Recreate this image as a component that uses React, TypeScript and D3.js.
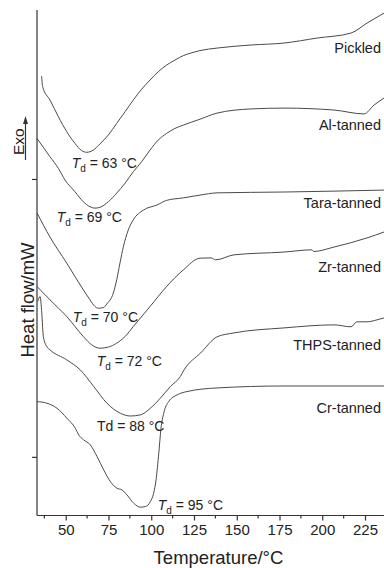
import { useEffect, useRef } from "react"
import * as d3 from "d3"

const W = 384, H = 568
const FONT = "'Liberation Sans', Arial, Helvetica, sans-serif"
const INK = "#222"

// DSC traces: temperature (°C) and heat flow (mW, curves offset vertically)
const pickledT = [35.9, 36.5, 40.8, 45.7, 50.6, 55.4, 59.3, 62.3, 66.1, 70.0, 74.9, 79.8, 84.7, 89.5, 94.4, 99.3, 104.1, 109.0, 113.9, 118.8, 123.7, 128.5, 138.5, 158.3, 177.6, 196.9, 216.8, 226.2, 236.1]
const pickledHF = [13.70, 13.32, 12.84, 12.24, 11.70, 11.28, 11.02, 10.96, 11.04, 11.26, 11.58, 12.00, 12.42, 12.84, 13.23, 13.56, 13.86, 14.10, 14.28, 14.44, 14.54, 14.62, 14.71, 14.82, 14.89, 15.07, 15.25, 15.61, 15.97]

const alT = [33.2, 40.8, 45.7, 49.6, 55.4, 60.3, 64.2, 67.1, 70.0, 74.9, 79.8, 84.7, 89.5, 94.4, 99.3, 104.1, 109.0, 113.9, 118.8, 128.5, 138.5, 158.3, 177.6, 206.9, 224.4, 230.3, 236.1]
const alHF = [11.46, 10.80, 10.38, 9.96, 9.54, 9.18, 9.00, 8.95, 8.98, 9.18, 9.49, 9.85, 10.26, 10.62, 11.04, 11.40, 11.64, 11.82, 11.94, 12.15, 12.37, 12.52, 12.55, 12.48, 12.34, 12.66, 12.91]

const taraT = [33.2, 40.8, 50.6, 60.3, 64.2, 67.1, 69.0, 72.0, 74.0, 77.8, 79.8, 81.7, 83.7, 86.6, 89.5, 95.4, 103.2, 109.0, 118.8, 128.5, 138.5, 177.6, 236.1]
const taraHF = [8.78, 7.91, 6.97, 6.01, 5.65, 5.41, 5.35, 5.37, 5.50, 5.89, 6.37, 6.97, 7.56, 8.17, 8.53, 8.88, 9.06, 9.23, 9.32, 9.42, 9.50, 9.53, 9.60]

const zrT = [33.2, 40.8, 50.6, 60.3, 65.2, 70.0, 74.9, 79.8, 84.7, 89.5, 99.3, 109.0, 118.8, 128.5, 135.0, 137.7, 148.4, 177.6, 194.0, 194.9, 206.9, 226.2, 236.1]
const zrHF = [6.13, 5.65, 5.05, 4.33, 4.03, 3.91, 3.95, 4.09, 4.33, 4.69, 5.41, 6.13, 6.73, 7.15, 7.16, 7.09, 7.27, 7.37, 7.45, 7.39, 7.55, 7.88, 8.09]

const thpsT = [33.6, 35.0, 36.0, 36.9, 38.9, 40.8, 50.6, 58.5, 66.4, 74.1, 81.9, 87.8, 93.6, 99.5, 105.3, 111.2, 117.0, 119.2, 128.9, 138.5, 148.4, 177.6, 206.9, 216.8, 220.3, 226.2, 232.0, 236.1]
const thpsHF = [5.59, 5.77, 5.17, 4.33, 3.97, 3.85, 3.49, 3.13, 2.53, 1.93, 1.57, 1.47, 1.51, 1.75, 2.11, 2.53, 2.89, 3.13, 3.74, 4.32, 4.46, 4.64, 4.75, 4.68, 4.86, 4.86, 4.93, 5.00]

const crT = [33.2, 39.0, 44.9, 50.7, 55.6, 57.6, 60.5, 64.4, 68.3, 72.2, 76.1, 80.0, 82.9, 85.8, 89.8, 93.6, 96.5, 99.5, 101.4, 102.8, 104.4, 105.7, 107.3, 110.2, 115.1, 120.9, 138.5, 177.6, 236.1]
const crHF = [1.99, 1.93, 1.75, 1.39, 1.03, 0.79, 0.61, 0.43, 0.01, -0.47, -0.89, -1.13, -1.19, -1.37, -1.67, -1.81, -1.79, -1.61, -1.31, -0.83, 0.13, 1.03, 1.57, 1.99, 2.23, 2.35, 2.48, 2.55, 2.55]

const seriesNames = ["Pickled", "Al-tanned", "Tara-tanned", "Zr-tanned", "THPS-tanned", "Cr-tanned"]
const seriesT = [pickledT, alT, taraT, zrT, thpsT, crT]
const seriesHF = [pickledHF, alHF, taraHF, zrHF, thpsHF, crHF]
const labelHF = [14.53, 11.76, 8.96, 6.67, 3.83, 1.58]

// denaturation temperature notes
const tdValues = [63, 69, 70, 72, 88, 95]
const tdItalic = [true, true, true, true, false, true]
const tdAtT = [53.5, 44.7, 54.1, 68.1, 68.3, 103.8]
const tdAtHF = [10.40, 8.45, 4.86, 3.27, 0.94, -1.91]

const xMajor = [50, 75, 100, 125, 150, 175, 200, 225]
const xMinor = [37.5, 62.5, 87.5, 112.5, 137.5, 162.5, 187.5, 212.5]
const yTicks = [0, 10]

export default function App() {
  const ref = useRef<SVGSVGElement>(null)
  useEffect(() => {
    if (!ref.current) return
    const svg = d3.select(ref.current)
    svg.selectAll("*").remove()
    const m = { top: 10, right: 0, bottom: 52.5, left: 37 }
    const x = d3.scaleLinear().domain([33.2, 236.1]).range([m.left, W - m.right])
    const y = d3.scaleLinear().domain([-2.11, 16.08]).range([H - m.bottom, m.top])
    const y0 = H - m.bottom

    // axes
    const gx = svg.append("g").attr("transform", `translate(0,${y0})`)
      .call(d3.axisBottom(x).tickValues(xMajor).tickSize(5).tickPadding(4).tickFormat(d3.format("d") as any))
    gx.select(".domain").attr("d", `M${m.left},0H${W}`)
    gx.selectAll(".domain, line").style("stroke", "#333").style("stroke-width", 1.2)
    gx.selectAll("text").style("fill", INK).style("font-size", "15px").style("font-family", FONT)
    gx.selectAll(".minor").data(xMinor).join("line").attr("class", "minor")
      .attr("x1", d => x(d)).attr("x2", d => x(d)).attr("y1", 0).attr("y2", 3)
      .style("stroke", "#333").style("stroke-width", 1.2)

    const gy = svg.append("g").attr("transform", `translate(${m.left},0)`)
      .call(d3.axisLeft(y).tickValues(yTicks).tickSize(5).tickFormat(() => ""))
    gy.select(".domain").attr("d", `M0,${m.top}V${y0}`)
    gy.selectAll(".domain, line").style("stroke", "#333").style("stroke-width", 1.2)

    // curves
    const line = d3.line<[number, number]>().x(d => x(d[0])).y(d => y(d[1])).curve(d3.curveMonotoneX)
    seriesNames.forEach((name, i) => {
      const pts = seriesT[i].map((t, j) => [t, seriesHF[i][j]] as [number, number])
      svg.append("path").datum(pts).attr("fill", "none").attr("stroke", "#4a4a4a")
        .attr("stroke-width", 1).attr("d", line)
      svg.append("text").attr("x", W - 3).attr("y", y(labelHF[i])).attr("text-anchor", "end")
        .style("font-family", FONT).style("font-size", "14.5px").style("fill", INK).text(name)
    })

    // Td annotations
    tdValues.forEach((v, i) => {
      const t = svg.append("text").attr("x", x(tdAtT[i])).attr("y", y(tdAtHF[i]))
        .style("font-family", FONT).style("font-size", "14px").style("fill", INK)
      if (tdItalic[i]) {
        t.append("tspan").style("font-style", "italic").text("T")
        t.append("tspan").attr("dy", 4).style("font-size", "10px").text("d")
        t.append("tspan").attr("dy", -4).text(` = ${v} °C`)
      } else {
        t.text(`Td = ${v} °C`)
      }
    })

    // axis titles
    svg.append("text").attr("x", (m.left + W) / 2 + 8).attr("y", 564).attr("text-anchor", "middle")
      .style("font-family", FONT).style("font-size", "18.5px").style("fill", INK).text("Temperature/°C")
    svg.append("text").attr("transform", `translate(34,300) rotate(-90)`).attr("text-anchor", "middle")
      .style("font-family", FONT).style("font-size", "18.5px").style("fill", INK).text("Heat flow/mW")

    // Exo marker
    svg.append("text").attr("transform", `translate(23.5,155) rotate(-90)`)
      .style("font-family", FONT).style("font-size", "15.5px").style("fill", INK).text("Exo")
    svg.append("line").attr("x1", 25.5).attr("x2", 25.5).attr("y1", 160).attr("y2", 122)
      .style("stroke", "#333").style("stroke-width", 1.2)
    svg.append("path").attr("d", "M25.5,116L23,124L28,124Z").attr("fill", "#333")
  }, [])
  return <svg ref={ref} width={W} height={H} style={{ position: "absolute", left: 0, top: 0, background: "#fff" }} />
}
